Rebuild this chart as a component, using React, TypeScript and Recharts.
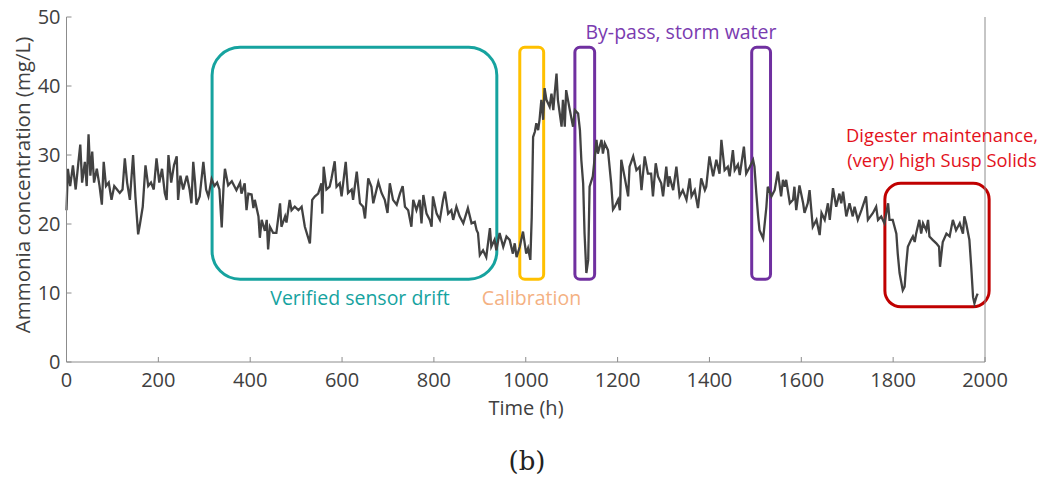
import { LineChart, Line, XAxis, YAxis, ReferenceArea } from "recharts";

// hourly ammonia readings as [time h, mg/L]
const startUp: [number, number][] = [
  [0, 22], [3, 28], [8, 25.5], [14, 28.5], [20, 25], [26, 29], [30, 31.5], [34, 26], [40, 29], [44, 25.5],
  [48, 33], [52, 27], [56, 30.5], [60, 26], [66, 28], [72, 25.5], [77, 22.8], [81, 29], [86, 25.5], [92, 26],
  [98, 23.5], [104, 25.5], [110, 25], [116, 24.5], [122, 25], [127, 29.5], [132, 26], [138, 23.5], [145, 30],
  [150, 24], [156, 18.5], [160, 20], [166, 22.5], [172, 28.5], [178, 25.5], [184, 26], [190, 25], [196, 29.5],
  [202, 26], [208, 28], [214, 24.5], [218, 23.5], [222, 30], [228, 26], [234, 28.5], [240, 29.8], [243, 23.5],
  [248, 27], [254, 25], [262, 27], [268, 25], [272, 23], [276, 29], [280, 26], [283, 22.8], [290, 24], [298, 29],
  [304, 25], [309, 24], [316, 26.5], [322, 25.5], [328, 26], [333, 25], [338, 19.5], [342, 25.5],
];

const driftA: [number, number][] = [
  [345, 28], [352, 25.6], [360, 26.2], [370, 24.9], [378, 26], [381, 24.4], [388, 25.9], [392, 22], [396, 24.4],
  [403, 24.3], [407, 22.3], [410, 23.5], [418, 21.1], [421, 18], [425, 20.6], [432, 19], [436, 20.6], [439, 16.3],
  [443, 19.6], [450, 18.7], [457, 18.7], [465, 23], [468, 19.6], [476, 21.1], [479, 20.2], [486, 23.5], [490, 22],
  [497, 22.5], [505, 22], [512, 22.5], [519, 19.6], [530, 17.2], [535, 23.5], [541, 24], [548, 24.4], [555, 25.9],
  [557, 21.5], [560, 28.3], [566, 25], [573, 25.4], [577, 26.6], [584, 29.1], [588, 25.4], [595, 25.9], [599, 24],
  [608, 29], [613, 24.5], [621, 25], [624, 23.5], [632, 27.6], [639, 23], [646, 22.5], [650, 20.8], [657, 26.6],
  [664, 25.4], [668, 23], [679, 26.1], [686, 24.5], [693, 23.5], [699, 21.6],
];

const driftB: [number, number][] = [
  [704, 25.9], [711, 23.5], [719, 22.8], [726, 24.4], [732, 25.5], [737, 22.5], [744, 22], [751, 19.6], [755, 23.5],
  [762, 22], [769, 23.5], [773, 20.1], [777, 24.2], [784, 21.5], [791, 20.6], [795, 19.6], [798, 24], [806, 21.5],
  [813, 20.6], [820, 23.5], [824, 24.7], [831, 21.5], [838, 22], [842, 20.6], [849, 22.5], [856, 21.1], [864, 20.1],
  [874, 22.3], [882, 20.1], [889, 20.3], [893, 19.1], [896, 18.7], [900, 15.5], [907, 16.2], [914, 15.2], [922, 19.4],
  [925, 16.7], [932, 17.7], [936, 16.2], [943, 18.7], [951, 16.7], [958, 18.2], [965, 17.7], [972, 15.7], [976, 17.2],
  [980, 15.2], [987, 16.7], [994, 18.9], [1001, 15.7], [1005, 16.5], [1010, 14.8], [1013, 21], [1016, 32.6],
];

const afterCalib: [number, number][] = [
  [1020, 33.4], [1023, 34.6], [1027, 33.6], [1030, 35.1], [1034, 38], [1038, 35.1], [1041, 39.7], [1045, 38],
  [1052, 37], [1056, 38.9], [1060, 36.5], [1063, 38.9], [1067, 41.8], [1070, 38], [1078, 34.1], [1081, 38],
  [1085, 34.1], [1088, 39.4], [1096, 36.5], [1103, 34.1], [1107, 36.5], [1114, 36], [1118, 33.6], [1121, 29.3],
  [1125, 25.9], [1128, 18.7], [1132, 12.9], [1136, 14.8], [1139, 25.4], [1146, 26.9], [1154, 32.2], [1157, 30.2],
  [1165, 32.2], [1168, 30.2], [1172, 31.7], [1179, 30.7], [1186, 25.9], [1190, 22.1], [1194, 22.5], [1201, 23.5],
  [1205, 22],
];

const midRun: [number, number][] = [
  [1208, 29.3], [1215, 26.9], [1223, 24], [1226, 28.3], [1234, 29.8], [1241, 27.8], [1248, 28.3], [1252, 24.9],
  [1259, 29.8], [1266, 27.3], [1273, 27.3], [1277, 24], [1283, 28.8], [1288, 26.9], [1295, 25.9], [1299, 24],
  [1306, 28.3], [1310, 25.4], [1313, 26.9], [1321, 24.9], [1328, 28.3], [1335, 24], [1342, 24.9], [1350, 23.5],
  [1357, 26.6], [1361, 24], [1368, 24.9], [1375, 22.3], [1382, 26.6], [1390, 24.9], [1393, 25.4], [1400, 29.8],
  [1408, 26.9], [1415, 29.3], [1422, 27.3], [1426, 32.2], [1433, 27.8], [1440, 28.3], [1444, 26.9], [1451, 30.7],
  [1455, 27.8], [1462, 28.6], [1466, 27.1], [1475, 31.2], [1480, 27.3], [1488, 28.3], [1495, 29.3], [1498, 28.3],
  [1502, 24.5], [1506, 21.1], [1509, 19.1], [1517, 17.9], [1524, 22.5], [1527, 25.4], [1535, 24], [1542, 24.9],
  [1549, 27.6],
];

const lateRun: [number, number][] = [
  [1556, 24], [1560, 26.4], [1564, 25.4], [1567, 26.4], [1575, 23], [1582, 23.5], [1585, 25.4], [1589, 22],
  [1596, 25.6], [1604, 23], [1607, 21.6], [1614, 23], [1618, 24.9], [1625, 19.6], [1633, 20.6], [1640, 18.4],
  [1644, 21.6], [1651, 20.6], [1658, 23], [1662, 20.6], [1669, 25.2], [1676, 22.5], [1683, 24.4], [1687, 23],
  [1691, 24.7], [1698, 21.1], [1705, 23], [1712, 21.1], [1716, 22.5], [1723, 20.6], [1731, 22], [1741, 24],
  [1745, 20.6], [1756, 21.6], [1763, 22.5], [1767, 20.6], [1774, 21.1], [1781, 20.1], [1789, 23], [1792, 20.6],
];

const digester: [number, number][] = [
  [1799, 20.6], [1803, 19.6], [1807, 18.6], [1810, 15.7], [1814, 12.9], [1821, 10.4], [1825, 10.9], [1828, 13.8],
  [1832, 16.7], [1839, 17.7], [1843, 18.2], [1847, 17.4], [1850, 18.6], [1857, 20.6], [1861, 18.6], [1865, 20.1],
  [1872, 19.1], [1876, 20.6], [1879, 18.2], [1886, 17.7], [1894, 17.2], [1900, 16.7], [1902, 13.8], [1908, 17.4],
  [1916, 18.6], [1923, 18.2], [1930, 20.6], [1937, 19.1], [1945, 20.1], [1952, 18.6], [1955, 21.1], [1959, 20.1],
  [1966, 17.7], [1970, 13.8], [1974, 9.4], [1977, 8.5], [1981, 9.4], [1984, 9.9],
];

const X_TICKS = [0, 200, 400, 600, 800, 1000, 1200, 1400, 1600, 1800, 2000];
const Y_TICKS = [0, 10, 20, 30, 40, 50];

// event boxes, in data units
const EVENTS = [
  { x1: 317, x2: 937, y1: 12, y2: 45.6, color: "#16a39f", r: 28 },
  { x1: 987, x2: 1039, y1: 12, y2: 45.6, color: "#ffc000", r: 5 },
  { x1: 1107, x2: 1150, y1: 12, y2: 45.6, color: "#7030a0", r: 5 },
  { x1: 1492, x2: 1533, y1: 12, y2: 45.6, color: "#7030a0", r: 5 },
  { x1: 1782, x2: 2009, y1: 8, y2: 25.9, color: "#c00000", r: 16 },
];

const data = [startUp, driftA, driftB, afterCalib, midRun, lateRun, digester]
  .flat()
  .map(([t, v]) => ({ t, v }));

const font = "'Open Sans', sans-serif";
const tickStyle = { fill: "#404040", fontSize: 20, fontFamily: font };
const axisStroke = { stroke: "#8c8c8c" };

const note = (left: number, top: number, color: string, size = 19.5) => ({
  position: "absolute" as const,
  left,
  top,
  transform: "translate(-50%, -50%)",
  color,
  fontSize: size,
  fontFamily: font,
  whiteSpace: "nowrap" as const,
  lineHeight: 1,
});

export default function App() {
  return (
    <div style={{ position: "relative", width: 1040, height: 477, marginTop: -8 }}>
      <LineChart width={1040} height={430} data={data} margin={{ top: 17, right: 53, left: 18.5, bottom: 28 }}>
        <XAxis
          dataKey="t"
          type="number"
          domain={[0, 2000]}
          ticks={X_TICKS}
          tickSize={-5}
          tickMargin={16}
          height={40}
          tick={tickStyle}
          axisLine={axisStroke}
          tickLine={axisStroke}
        />
        <XAxis
          xAxisId="top"
          orientation="top"
          dataKey="t"
          type="number"
          domain={[0, 2000]}
          ticks={X_TICKS}
          tickSize={-5}
          tick={false}
          height={0}
          axisLine={axisStroke}
          tickLine={axisStroke}
        />
        <YAxis
          type="number"
          domain={[0, 50]}
          ticks={Y_TICKS}
          tickSize={-5}
          tickMargin={11}
          width={40}
          tick={tickStyle}
          axisLine={axisStroke}
          tickLine={axisStroke}
        />
        <YAxis
          yAxisId="right"
          orientation="right"
          type="number"
          domain={[0, 50]}
          ticks={Y_TICKS}
          tickSize={-5}
          tick={false}
          width={10}
          axisLine={axisStroke}
          tickLine={axisStroke}
        />
        <Line
          dataKey="v"
          type="linear"
          stroke="#424242"
          strokeWidth={2.3}
          dot={false}
          isAnimationActive={false}
        />
        {EVENTS.map((b, i) => (
          <ReferenceArea
            key={i}
            x1={b.x1}
            x2={b.x2}
            y1={b.y1}
            y2={b.y2}
            ifOverflow="visible"
            shape={(p: any) => (
              <rect
                x={p.x}
                y={p.y}
                width={p.width}
                height={p.height}
                rx={b.r}
                ry={b.r}
                fill="none"
                stroke={b.color}
                strokeWidth={3}
              />
            )}
          />
        ))}
      </LineChart>

      <div style={note(673, 32, "#7a3bb0")}>By-pass, storm water</div>
      <div style={note(352, 298, "#16a39f")}>Verified sensor drift</div>
      <div style={note(523.5, 298, "#f4b183")}>Calibration</div>
      <div style={note(934, 135, "#e3111b", 18.3)}>Digester maintenance,</div>
      <div style={note(934, 160, "#e3111b", 18.3)}>(very) high Susp Solids</div>
      <div style={note(518, 408, "#404040", 20)}>Time (h)</div>
      <div
        style={{
          ...note(14, 185, "#404040", 20.5),
          transform: "translate(-50%, -50%) rotate(-90deg)",
        }}
      >
        Ammonia concentration (mg/L)
      </div>
      <div
        style={{
          ...note(519, 461, "#222", 26),
          fontFamily: "'DejaVu Serif', serif",
        }}
      >
        (b)
      </div>
    </div>
  );
}
